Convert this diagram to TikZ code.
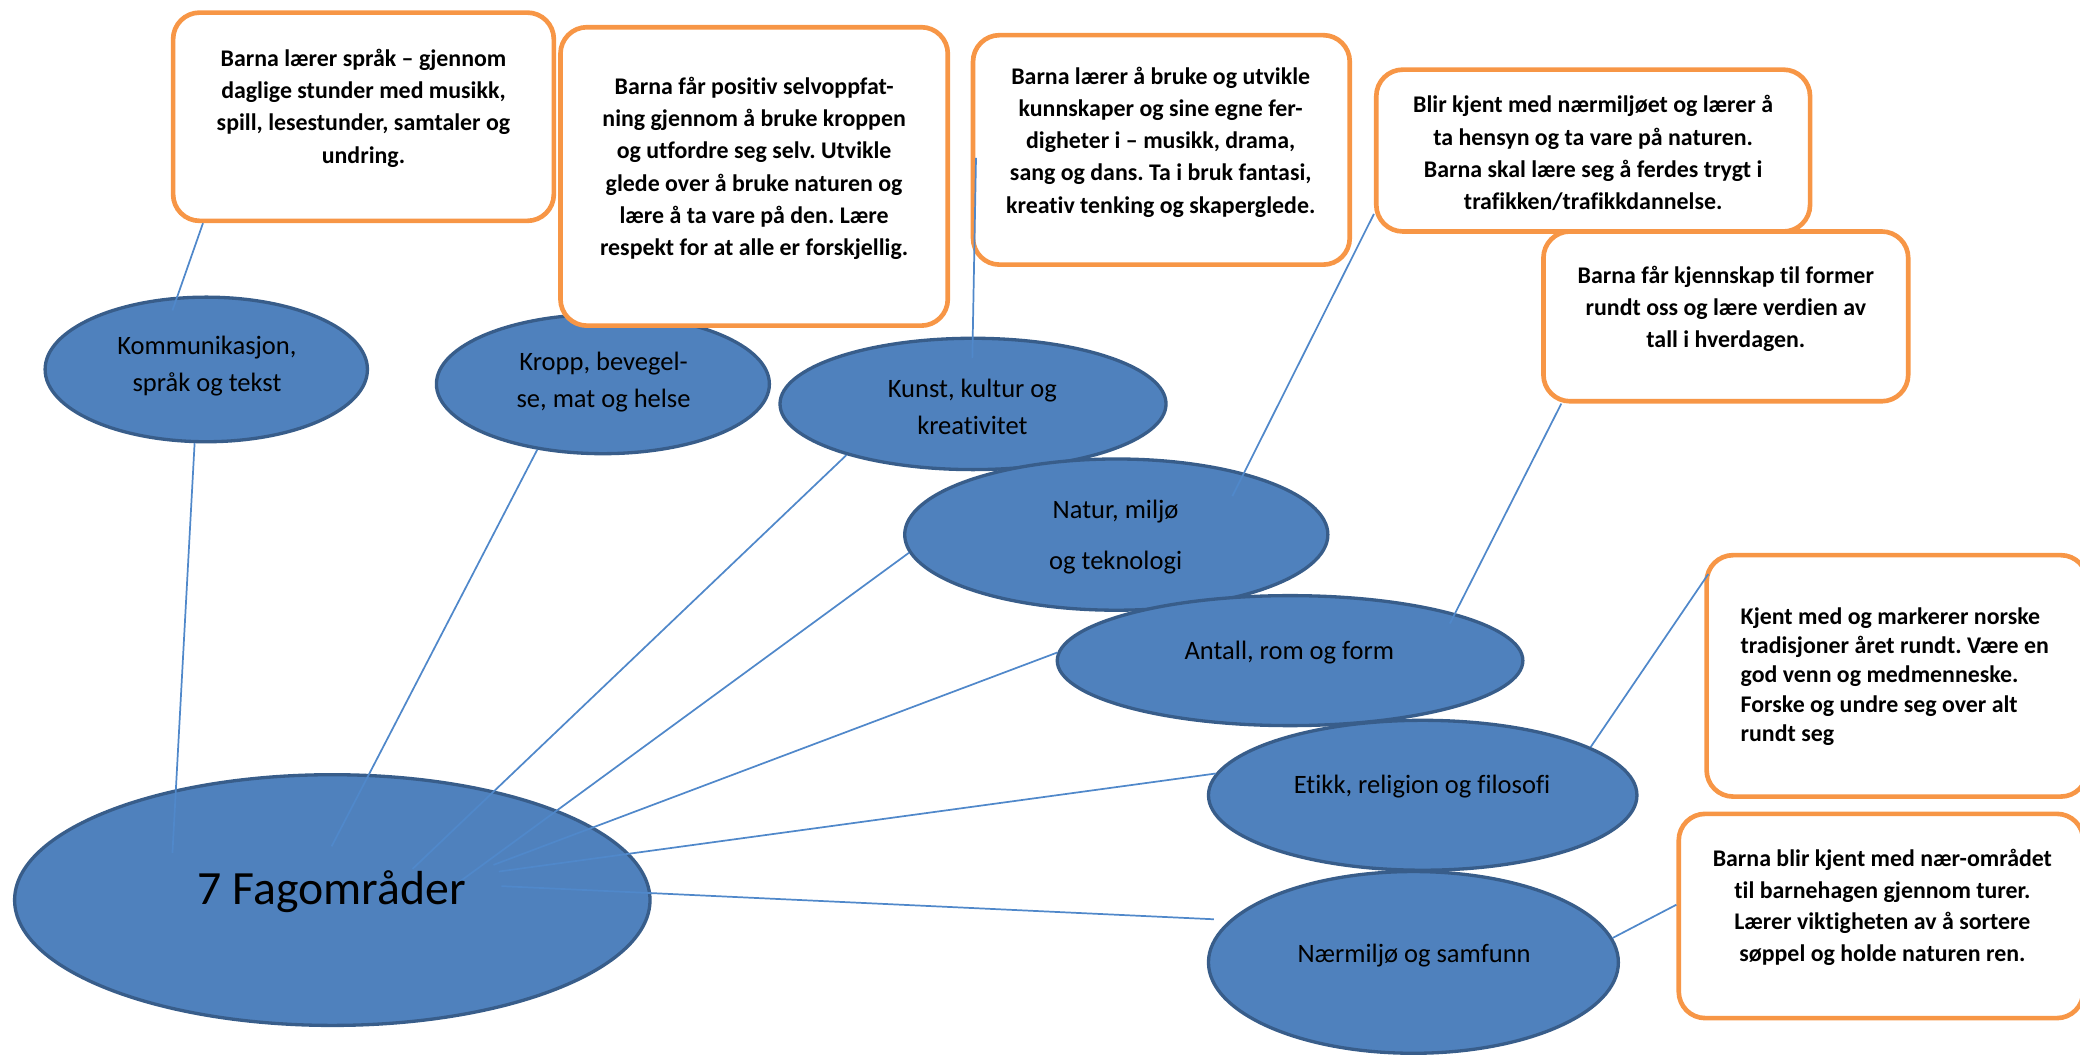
\documentclass[tikz,border=0pt]{standalone}
\usepackage{fontspec}
\setmainfont{Carlito}[Ligatures=NoCommon]
\frenchspacing
\usetikzlibrary{shapes,positioning}
\definecolor{topicfill}{RGB}{79,129,189}
\definecolor{topicline}{RGB}{56,93,138}
\definecolor{noteline}{RGB}{247,150,70}
\definecolor{linkblue}{RGB}{80,136,202}

\begin{document}
\begin{tikzpicture}[x=1pt,y=1pt,
                topic/.style={ellipse, draw=topicline, fill=topicfill, line width=2.5pt},
                note/.style={rectangle, rounded corners=20pt, draw=noteline, fill=white, line width=3.5pt},
                notetext/.style={font=\bfseries\fontsize{18}{24.3}\selectfont, align=center},
                topictext/.style={font=\fontsize{20}{28}\selectfont, align=center},
                link/.style={draw=linkblue, line width=1.3pt}]
                \tikzstyle{every node}+=[inner sep=0pt]
                \useasboundingbox (0,0) rectangle (1568,-798);
                \draw (250.5,-678.5) node (fag) [topic, minimum width=479pt, minimum height=189pt] {};
                \draw (155.5,-278.5) node (kom) [topic, minimum width=243pt, minimum height=109pt] {};
                \draw (454.5,-289.5) node (kropp) [topic, minimum width=251pt, minimum height=105pt] {};
                \draw (733.5,-304.5) node (kunst) [topic, minimum width=291pt, minimum height=99pt] {};
                \draw (841.5,-403) node (natur) [topic, minimum width=319pt, minimum height=114pt] {};
                \draw (972.5,-498) node (antall) [topic, minimum width=351pt, minimum height=98pt] {};
                \draw (1072.5,-599.5) node (etikk) [topic, minimum width=323pt, minimum height=113pt] {};
                \draw (1065.5,-725.5) node (naer) [topic, minimum width=309pt, minimum height=137pt] {};
                \draw (274,-88) node (b1) [note, minimum width=287pt, minimum height=157pt] {};
                \draw (568.5,-133) node (b2) [note, minimum width=292pt, minimum height=225pt] {};
                \draw (875.5,-113) node (b3) [note, minimum width=284pt, minimum height=173pt] {};
                \draw (1201,-113.5) node (b4) [note, minimum width=327pt, minimum height=122pt] {};
                \draw (1301,-238.5) node (b5) [note, minimum width=275pt, minimum height=128pt] {};
                \draw (1430,-509.5) node (b6) [note, minimum width=287pt, minimum height=182pt] {};
                \draw (1418,-690.5) node (b7) [note, minimum width=305pt, minimum height=154pt] {};
                \coordinate (h1) at (130,-643);
                \coordinate (h2) at (250,-638);
                \coordinate (h3) at (311,-655);
                \coordinate (h4) at (346,-665);
                \coordinate (h5) at (372,-652);
                \coordinate (h6) at (376,-657);
                \coordinate (h7) at (378,-668);
                \coordinate (k1) at (130,-234);
                \coordinate (k3) at (733,-270);
                \coordinate (k4) at (929,-374);
                \coordinate (k5) at (1093,-470);
                \draw [link] (kom.261) -- (h1);
                \draw [link] (kropp.225) -- (h2);
                \draw [link] (kunst.202) -- (h3);
                \draw [link] (natur.185) -- (h4);
                \draw [link] (antall.178) -- (h5);
                \draw [link] (etikk.174) -- (h6);
                \draw [link, shorten <=12pt] (naer.167) -- (h7);
                \draw [link] ([xshift=-121pt]b1.south) -- (k1);
                \draw [link] ([shift={(4pt,-6pt)}]b3.west) -- (k3);
                \draw [link] ([yshift=15pt]b4.south west) -- (k4);
                \draw [link] ([xshift=-124pt]b5.south) -- (k5);
                \draw [link] ([shift={(3pt,-16pt)}]b6.north west) -- (etikk.16);
                \draw [link] ([yshift=8.5pt]b7.west) -- (naer.7);
                \draw (250,-672) node (fag-t) [font=\fontsize{36}{43}\selectfont] {7 Fagområder};
                \draw (156,-276) node (kom-t) [topictext] {Kommunikasjon,\\språk og tekst};
                \draw (455,-288) node (kropp-t) [topictext] {Kropp, bevegel-\\se, mat og helse};
                \draw (733,-306.5) node (kunst-t) [topictext] {Kunst, kultur og\\kreativitet};
                \draw (841,-405) node (natur-t) [topictext] {Natur, miljø\\[10pt]og teknologi};
                \draw (972,-492) node (antall-t) [topictext] {Antall, rom og form};
                \draw (1072,-593) node (etikk-t) [topictext] {Etikk, religion og filosofi};
                \draw (1066,-720) node (naer-t) [topictext] {Nærmiljø og samfunn};
                \draw (274,-81.5) node (b1-t) [notetext] {Barna lærer språk – gjennom\\daglige stunder med musikk,\\spill, lesestunder, samtaler og\\undring.};
                \draw (568.5,-127) node (b2-t) [notetext] {Barna får positiv selvoppfat-\\ning gjennom å bruke kroppen\\og utfordre seg selv. Utvikle\\glede over å bruke naturen og\\lære å ta vare på den. Lære\\respekt for at alle er forskjellig.};
                \draw (875,-107) node (b3-t) [notetext] {Barna lærer å bruke og utvikle\\kunnskaper og sine egne fer-\\digheter i – musikk, drama,\\sang og dans. Ta i bruk fantasi,\\kreativ tenking og skaperglede.};
                \draw (1201,-115.5) node (b4-t) [notetext] {Blir kjent med nærmiljøet og lærer å\\ta hensyn og ta vare på naturen.\\Barna skal lære seg å ferdes trygt i\\trafikken/trafikkdannelse.};
                \draw (1301,-233) node (b5-t) [notetext] {Barna får kjennskap til former\\rundt oss og lære verdien av\\tall i hverdagen.};
                \draw (1312,-510) node (b6-t) [notetext, anchor=west, align=left, font=\bfseries\fontsize{18}{22}\selectfont] {Kjent med og markerer norske\\tradisjoner året rundt. Være en\\god venn og medmenneske.\\Forske og undre seg over alt\\rundt seg};
                \draw (1419,-684) node (b7-t) [notetext, font=\bfseries\fontsize{18}{24}\selectfont] {Barna blir kjent med nær-området\\til barnehagen gjennom turer.\\Lærer viktigheten av å sortere\\søppel og holde naturen ren.};
            \end{tikzpicture}
\end{document}
